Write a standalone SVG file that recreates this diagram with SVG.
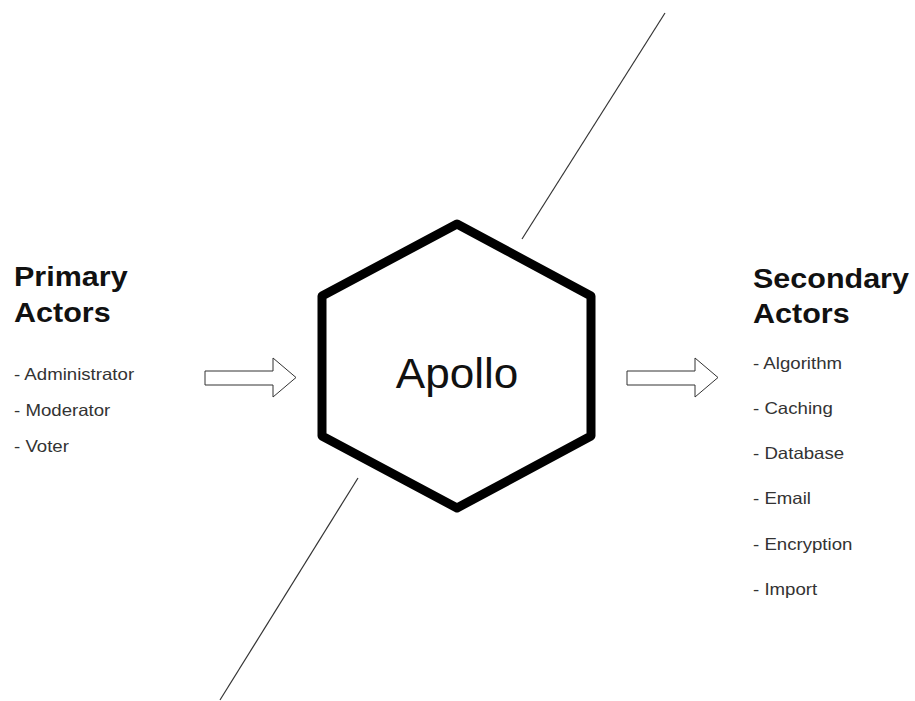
<svg xmlns="http://www.w3.org/2000/svg" width="915" height="701" viewBox="0 0 915 701">
<style>
.h{font-family:"Liberation Sans",Arial,sans-serif;font-weight:bold;font-size:27px;fill:#111}
.li{font-family:"Liberation Sans",Arial,sans-serif;font-size:16.5px;fill:#333}
.ln{stroke:#333;stroke-width:1.2;fill:none}
.arr{fill:#fff;stroke:#333;stroke-width:1}
</style>
<rect width="915" height="701" fill="#fff"/>
<g id="connectors">
<line class="ln" x1="522" y1="239" x2="665" y2="13"/>
<line class="ln" x1="358" y1="478" x2="220" y2="700"/>
<path id="arrow-in" class="arr" d="M205,371 L273,371 L273,358 L296,377.5 L273,397 L273,385 L205,385 Z"/>
<path id="arrow-out" class="arr" d="M627,371 L695,371 L695,358 L718,377.5 L695,397 L695,385 L627,385 Z"/>
</g>
<g id="apollo">
<polygon points="457,224 591,296 591,436 457,508 322,436 322,296" fill="#fff" stroke="#000" stroke-width="9" stroke-linejoin="round"/>
<g transform="translate(457,388) scale(1.05,1)">
<text x="0" y="0" text-anchor="middle" font-family="'Liberation Sans',Arial,sans-serif" font-size="42" fill="#111">Apollo</text>
</g>
</g>
<g id="primary" transform="translate(14,0) scale(1.13,1)">
<text class="h" x="0" y="286">Primary</text>
<text class="h" x="0" y="322">Actors</text>
<text class="li" x="0" y="380">- Administrator</text>
<text class="li" x="0" y="416">- Moderator</text>
<text class="li" x="0" y="452">- Voter</text>
</g>
<g id="secondary" transform="translate(753,0) scale(1.13,1)">
<text class="h" x="0" y="288">Secondary</text>
<text class="h" x="0" y="323">Actors</text>
<text class="li" x="0" y="369">- Algorithm</text>
<text class="li" x="0" y="414">- Caching</text>
<text class="li" x="0" y="459">- Database</text>
<text class="li" x="0" y="504">- Email</text>
<text class="li" x="0" y="550">- Encryption</text>
<text class="li" x="0" y="595">- Import</text>
</g>
</svg>
